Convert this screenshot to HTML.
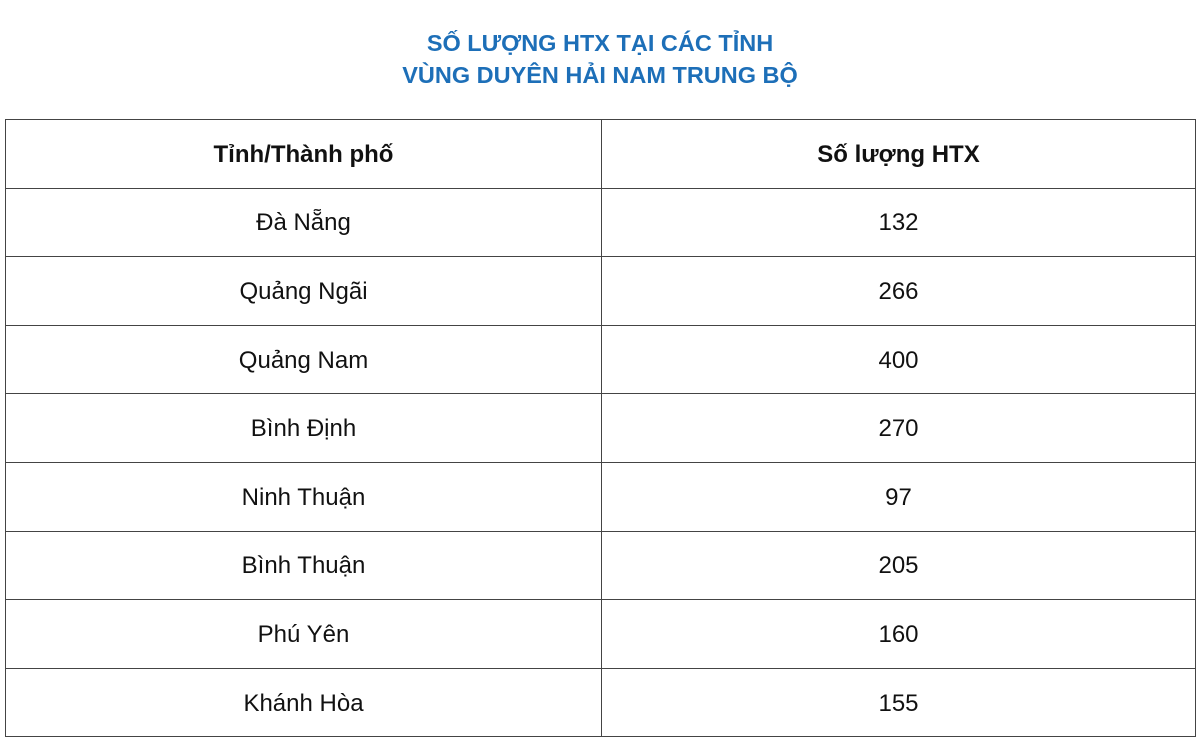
<!DOCTYPE html>
<html><head><meta charset="utf-8"><style>
body{margin:0;background:#fff;width:1200px;height:741px;overflow:hidden;font-family:"Liberation Sans",sans-serif;}
.t{position:absolute;left:0;width:1200px;text-align:center;color:#1d6fb8;font-weight:bold;font-size:23.5px;}
table{position:absolute;left:5px;top:119px;width:1191px;border-collapse:collapse;}
td{border:1.5px solid #444;height:65.6px;padding:2px 0 0 0;text-align:center;font-size:24px;color:#111;}
tr.h td{font-weight:bold;}
td:first-child{width:595px;}
</style></head><body>
<div class="t" style="top:30px">SỐ LƯỢNG HTX TẠI CÁC TỈNH</div>
<div class="t" style="top:62px">VÙNG DUYÊN HẢI NAM TRUNG BỘ</div>
<table>
<tr class="h"><td>Tỉnh/Thành phố</td><td>Số lượng HTX</td></tr>
<tr><td>Đà Nẵng</td><td>132</td></tr>
<tr><td>Quảng Ngãi</td><td>266</td></tr>
<tr><td>Quảng Nam</td><td>400</td></tr>
<tr><td>Bình Định</td><td>270</td></tr>
<tr><td>Ninh Thuận</td><td>97</td></tr>
<tr><td>Bình Thuận</td><td>205</td></tr>
<tr><td>Phú Yên</td><td>160</td></tr>
<tr><td>Khánh Hòa</td><td>155</td></tr>
</table>
</body></html>
